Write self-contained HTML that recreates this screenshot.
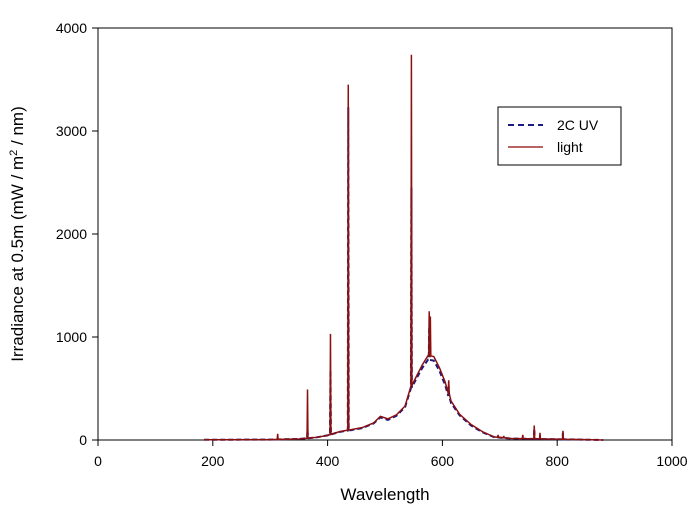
<!DOCTYPE html>
<html><head><meta charset="utf-8"><style>
body{margin:0;background:#fff;width:700px;height:509px;overflow:hidden;font-family:"Liberation Sans",Arial,sans-serif}
svg text{font-family:"Liberation Sans",Arial,sans-serif}
</style></head><body>
<svg id="chart" width="700" height="509" viewBox="0 0 700 509">
<rect x="98" y="28" width="574" height="412" fill="#fff" stroke="#000" stroke-width="1"/>
<g id="ticks"></g>
<g id="series"></g>
<text x="385" y="500" text-anchor="middle" font-size="17">Wavelength</text>
<text transform="translate(23,234) rotate(-90)" text-anchor="middle" font-size="17">Irradiance at 0.5m (mW / m<tspan dy="-6" font-size="11">2</tspan><tspan dy="6"> / nm)</tspan></text>
<g>
<rect x="498" y="107" width="123" height="58" fill="#fff" stroke="#000"/>
<line x1="508" y1="125" x2="543" y2="125" stroke="#1a1a80" stroke-width="2" stroke-dasharray="6,4"/>
<text x="557" y="130" font-size="14">2C UV</text>
<line x1="508" y1="147" x2="543" y2="147" stroke="#a03030" stroke-width="1.5"/>
<text x="557" y="152" font-size="14">light</text>
</g>
</svg>
<script>
const xTicks=[0,200,400,600,800,1000];
const yTicks=[0,1000,2000,3000,4000];
const contWl=[185,300,350,380,400,420,440,460,480,492,505,520,535,545,555,565,575,585,595,605,615,630,650,670,690,720,780,840,880];
const lightCont=[2,4,10,25,45,80,100,120,165,230,205,245,330,520,620,730,820,810,700,560,380,250,150,80,30,15,10,5,0];
const uvCont=[2,4,10,25,45,78,95,115,160,220,195,235,320,500,600,700,780,770,670,530,360,240,140,75,28,14,9,4,0];
const lightSpikeWl=[313,365,405,436,546,577,579,611,697,707,740,760,770,810];
const lightSpikeVal=[60,490,1030,3450,3740,1250,1200,580,50,40,50,140,70,90];
const uvSpikeWl=[365,405,436,546,577,611,760,810];
const uvSpikeVal=[100,680,3230,2450,1100,520,110,70];
const X=w=>98+w*0.574, Y=v=>440-v*0.103;
const NS='http://www.w3.org/2000/svg';
const tg=document.getElementById('ticks');
xTicks.forEach(t=>{
 const l=document.createElementNS(NS,'line');
 
 
 l.setAttribute('x1',X(t));l.setAttribute('x2',X(t));l.setAttribute('y1',440);l.setAttribute('y2',446);l.setAttribute('stroke','#000');tg.appendChild(l);
 const s=document.createElementNS(NS,'text');
 
 
 s.setAttribute('x',X(t));s.setAttribute('y',466);s.setAttribute('text-anchor','middle');s.setAttribute('font-size','14');s.textContent=t;tg.appendChild(s);
});
yTicks.forEach(t=>{
 const l=document.createElementNS(NS,'line');
 
 
 l.setAttribute('x1',92);l.setAttribute('x2',98);l.setAttribute('y1',Y(t));l.setAttribute('y2',Y(t));l.setAttribute('stroke','#000');tg.appendChild(l);
 const s=document.createElementNS(NS,'text');
 
 
 s.setAttribute('x',87);s.setAttribute('y',Y(t)+5);s.setAttribute('text-anchor','end');s.setAttribute('font-size','14');s.textContent=t;tg.appendChild(s);
});
function interp(wl,cw,cv){for(let i=0;i<cw.length-1;i++){if(wl>=cw[i]&&wl<=cw[i+1]){const f=(wl-cw[i])/(cw[i+1]-cw[i]);return cv[i]+f*(cv[i+1]-cv[i]);}}return 0;}
function build(cv,sw,sv){
 let pts=contWl.map((w,i)=>[w,cv[i]]);
 sw.forEach((w,i)=>{const b=interp(w,contWl,cv);pts.push([w-0.8,b],[w,sv[i]],[w+0.8,b]);});
 pts.sort((a,b)=>a[0]-b[0]);
 return pts.map((p,i)=>(i?'L':'M')+X(p[0]).toFixed(2)+','+Y(p[1]).toFixed(2)).join('');
}
const sg=document.getElementById('series');
const pu=document.createElementNS(NS,'path');


pu.setAttribute('d',build(uvCont,uvSpikeWl,uvSpikeVal));pu.setAttribute('fill','none');pu.setAttribute('stroke','#1a1a80');pu.setAttribute('stroke-width','2');pu.setAttribute('stroke-dasharray','5,3');sg.appendChild(pu);
const pl=document.createElementNS(NS,'path');


pl.setAttribute('d',build(lightCont,lightSpikeWl,lightSpikeVal));pl.setAttribute('fill','none');pl.setAttribute('stroke','#8b1010');pl.setAttribute('stroke-width','1.5');sg.appendChild(pl);
</script>
</body></html>
